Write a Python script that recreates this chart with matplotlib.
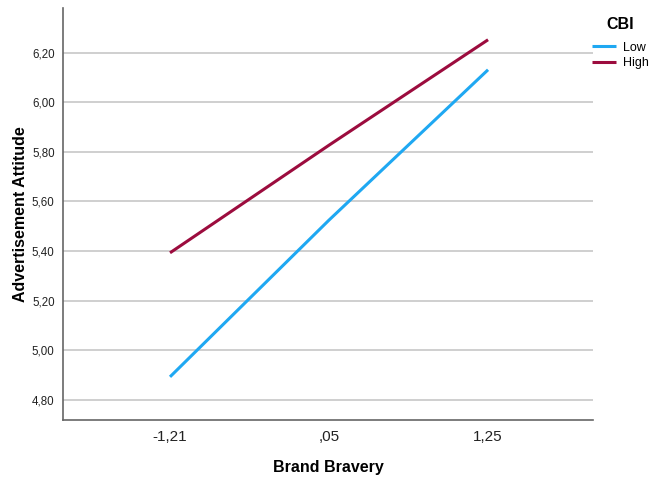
import numpy as np
import matplotlib.pyplot as plt

plt.rcParams['font.family'] = ['Liberation Sans', 'DejaVu Sans']

# data
brand_bravery = ["-1,21", ",05", "1,25"]
low_cbi = [4.893, 5.525, 6.131]
high_cbi = [5.393, 5.827, 6.252]
y_ticks = [4.80, 5.00, 5.20, 5.40, 5.60, 5.80, 6.00, 6.20]

fig = plt.figure(figsize=(6.5, 4.78), dpi=100)
ax = fig.add_axes([63/650, 1-420/478, (593-63)/650, (420-8)/478])

x = np.arange(len(brand_bravery))
ax.plot(x, low_cbi, color="#1fa8f2", lw=2.2, label="Low", solid_capstyle="butt")
ax.plot(x, high_cbi, color="#9c0c3e", lw=2.2, label="High", solid_capstyle="butt")

ax.set_xlim(-0.673, 2.66)
ax.set_ylim(4.719, 6.38)
ax.set_xticks(x)
ax.set_xticklabels(brand_bravery, fontsize=11)
ax.set_yticks(y_ticks)
ax.set_yticklabels([("%.2f" % v).replace(".", ",") for v in y_ticks], fontsize=8.3)
ax.tick_params(length=0, pad=6, colors="#222222")
ax.tick_params(axis="x", pad=7)
ax.grid(axis="y", color="#cccccc", lw=1.3)
ax.set_axisbelow(True)

for s in ["top", "right"]:
    ax.spines[s].set_visible(False)
for s in ["left", "bottom"]:
    ax.spines[s].set_color("#666666")
    ax.spines[s].set_linewidth(1.2)

ax.set_xlabel("Brand Bravery", fontsize=11.5, fontweight="bold", labelpad=12)
ax.set_ylabel("Advertisement Attitude", fontsize=11.5, fontweight="bold", labelpad=3)

leg = ax.legend(title="CBI", loc="upper left", bbox_to_anchor=(592/650, 1-17/478),
                bbox_transform=fig.transFigure, frameon=False,
                fontsize=9, handlelength=1.9, handletextpad=0.55, labelspacing=0.3,
                borderaxespad=0, borderpad=0)
leg.get_title().set_fontweight("bold")
leg.get_title().set_fontsize(11.5)
leg._legend_box.align = "center"
leg._legend_box.sep = 7

fig.savefig("out.png", dpi=100)
